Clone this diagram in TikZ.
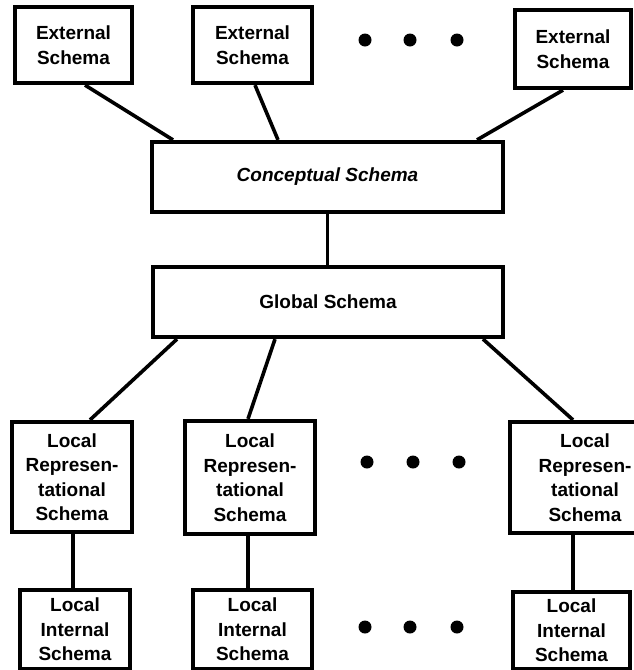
\documentclass[tikz,border=0pt]{standalone}
\usepackage{fontspec}
\setmainfont{Liberation Sans}
\begin{document}
\begin{tikzpicture}[x=1pt,y=-1pt,
  schemabox/.style={draw, line width=4.2pt, align=center, inner sep=0pt,
    font=\fontsize{19}{24.5}\selectfont\bfseries},
  link/.style={line width=3.6pt},
  dot/.style={fill=black}]
\useasboundingbox (0,0) rectangle (634,670);
\clip (0,0) rectangle (634,670);
% external schemas
\node[schemabox, minimum width=117pt, minimum height=76pt] (ext1) at (73.5,45) {External\\Schema};
\node[schemabox, minimum width=119pt, minimum height=76pt] (ext2) at (252.5,45) {External\\Schema};
\node[schemabox, minimum width=116pt, minimum height=78pt] (ext3) at (573,49) {External\\Schema};
% conceptual & global
\node[schemabox, minimum width=351pt, minimum height=70pt] (concept) at (327.5,177) {\itshape Conceptual Schema};
\node[schemabox, minimum width=350pt, minimum height=70pt] (global) at (328,302) {Global Schema};
% local representational
\node[schemabox, minimum width=120pt, minimum height=110pt] (lr1) at (72,477) {Local\\Represen-\\tational\\Schema};
\node[schemabox, minimum width=130pt, minimum height=113pt] (lr2) at (250,477.5) {Local\\Represen-\\tational\\Schema};
\node[schemabox, minimum width=150pt, minimum height=111pt] (lr3) at (585,477.5) {Local\\Represen-\\tational\\Schema};
% local internal
\node[schemabox, minimum width=110pt, minimum height=79pt] (li1) at (75,629.5) {Local\\Internal\\Schema};
\node[schemabox, minimum width=119pt, minimum height=79pt] (li2) at (252.5,629.5) {Local\\Internal\\Schema};
\node[schemabox, minimum width=117pt, minimum height=77pt] (li3) at (571.5,630.5) {Local\\Internal\\Schema};
% connectors
\draw[link] ([xshift=11.5pt]ext1.south) -- ([xshift=-154.5pt]concept.north);
\draw[link] ([xshift=2.5pt]ext2.south) -- ([xshift=-49.5pt]concept.north);
\draw[link] ([xshift=-10pt]ext3.south) -- ([xshift=149.5pt]concept.north);
\draw[link] (concept.south) -- (concept.south |- global.north);
\draw[link] ([xshift=-151pt]global.south) -- ([xshift=18pt]lr1.north);
\draw[link] ([xshift=-53pt]global.south) -- ([xshift=-2pt]lr2.north);
\draw[link] ([xshift=155pt]global.south) -- ([xshift=-12pt]lr3.north);
\draw[link] ([xshift=1pt]lr1.south) -- ([xshift=1pt]lr1.south |- li1.north);
\draw[link] ([xshift=-2pt]lr2.south) -- ([xshift=-2pt]lr2.south |- li2.north);
\draw[link] ([xshift=-12pt]lr3.south) -- ([xshift=-12pt]lr3.south |- li3.north);
% ellipsis dots
\foreach \x in {365,410,457} \fill[dot] (\x,40) circle (6.5pt);
\foreach \x in {367,413,459} \fill[dot] (\x,462) circle (6.5pt);
\foreach \x in {365,410,457} \fill[dot] (\x,627) circle (6.5pt);
\end{tikzpicture}
\end{document}
